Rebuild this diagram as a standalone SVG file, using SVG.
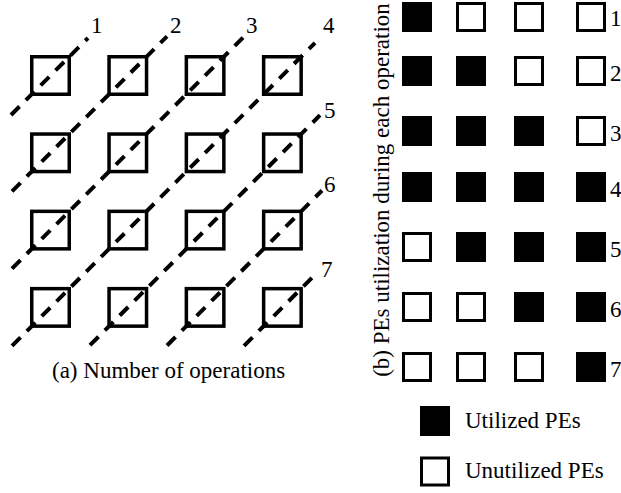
<svg xmlns="http://www.w3.org/2000/svg" width="621" height="493" viewBox="0 0 621 493">
<style>
.pe{fill:#fff;stroke:#000;stroke-width:3.5}
.u{fill:#fff;stroke:#000;stroke-width:3}
.f{fill:#000;stroke:none}
.d{fill:none;stroke:#000;stroke-width:4;stroke-dasharray:12 9}
text{font-family:"Liberation Serif","Times New Roman",serif;font-size:23px;fill:#000}
</style>
<rect width="621" height="493" fill="#fff"/>
<!-- (a) PE grid -->
<g id="grid-a">
<g id="a11"><rect class="pe" x="31.75" y="56.75" width="37.5" height="37.5"/></g>
<g id="a12"><rect class="pe" x="109.05" y="56.75" width="37.5" height="37.5"/></g>
<g id="a13"><rect class="pe" x="186.35" y="56.75" width="37.5" height="37.5"/></g>
<g id="a14"><rect class="pe" x="263.65" y="56.75" width="37.5" height="37.5"/></g>
<g id="a21"><rect class="pe" x="31.75" y="134.05" width="37.5" height="37.5"/></g>
<g id="a22"><rect class="pe" x="109.05" y="134.05" width="37.5" height="37.5"/></g>
<g id="a23"><rect class="pe" x="186.35" y="134.05" width="37.5" height="37.5"/></g>
<g id="a24"><rect class="pe" x="263.65" y="134.05" width="37.5" height="37.5"/></g>
<g id="a31"><rect class="pe" x="31.75" y="211.35" width="37.5" height="37.5"/></g>
<g id="a32"><rect class="pe" x="109.05" y="211.35" width="37.5" height="37.5"/></g>
<g id="a33"><rect class="pe" x="186.35" y="211.35" width="37.5" height="37.5"/></g>
<g id="a34"><rect class="pe" x="263.65" y="211.35" width="37.5" height="37.5"/></g>
<g id="a41"><rect class="pe" x="31.75" y="288.65" width="37.5" height="37.5"/></g>
<g id="a42"><rect class="pe" x="109.05" y="288.65" width="37.5" height="37.5"/></g>
<g id="a43"><rect class="pe" x="186.35" y="288.65" width="37.5" height="37.5"/></g>
<g id="a44"><rect class="pe" x="263.65" y="288.65" width="37.5" height="37.5"/></g>
</g>
<g id="connectors">
<line class="d" x1="11" y1="115" x2="88" y2="38"/>
<line class="d" x1="12" y1="191.3" x2="167" y2="36.3"/>
<line class="d" x1="12" y1="268.6" x2="243" y2="37.6"/>
<line class="d" x1="12" y1="345.9" x2="315" y2="42.9"/>
<line class="d" x1="90" y1="345.2" x2="320" y2="115.2"/>
<line class="d" x1="167" y1="345.5" x2="322" y2="190.5"/>
<line class="d" x1="244" y1="345.8" x2="318" y2="271.8"/>
</g>
<g id="labels-a">
<text x="91" y="33">1</text>
<text x="170" y="33">2</text>
<text x="246" y="33">3</text>
<text x="323" y="33">4</text>
<text x="324" y="118">5</text>
<text x="324" y="192">6</text>
<text x="321" y="277">7</text>
<text x="52" y="378">(a) Number of operations</text>
</g>
<!-- (b) utilization -->
<g id="grid-b">
<g id="b1">
<rect class="f" x="402" y="2" width="30" height="30"/>
<rect class="u" x="457.5" y="3.5" width="27" height="27"/>
<rect class="u" x="515.5" y="3.5" width="27" height="27"/>
<rect class="u" x="577.5" y="3.5" width="27" height="27"/>
<text x="610" y="26">1</text>
</g>
<g id="b2">
<rect class="f" x="402" y="56" width="30" height="30"/>
<rect class="f" x="456" y="56" width="30" height="30"/>
<rect class="u" x="515.5" y="57.5" width="27" height="27"/>
<rect class="u" x="577.5" y="57.5" width="27" height="27"/>
<text x="610" y="81">2</text>
</g>
<g id="b3">
<rect class="f" x="402" y="116" width="30" height="30"/>
<rect class="f" x="456" y="116" width="30" height="30"/>
<rect class="f" x="514" y="116" width="30" height="30"/>
<rect class="u" x="577.5" y="117.5" width="27" height="27"/>
<text x="610" y="141">3</text>
</g>
<g id="b4">
<rect class="f" x="402" y="172" width="30" height="30"/>
<rect class="f" x="456" y="172" width="30" height="30"/>
<rect class="f" x="514" y="172" width="30" height="30"/>
<rect class="f" x="576" y="172" width="30" height="30"/>
<text x="610" y="197">4</text>
</g>
<g id="b5">
<rect class="u" x="403.5" y="233.5" width="27" height="27"/>
<rect class="f" x="456" y="232" width="30" height="30"/>
<rect class="f" x="514" y="232" width="30" height="30"/>
<rect class="f" x="576" y="232" width="30" height="30"/>
<text x="610" y="257">5</text>
</g>
<g id="b6">
<rect class="u" x="403.5" y="293.5" width="27" height="27"/>
<rect class="u" x="457.5" y="293.5" width="27" height="27"/>
<rect class="f" x="514" y="292" width="30" height="30"/>
<rect class="f" x="576" y="292" width="30" height="30"/>
<text x="610" y="317">6</text>
</g>
<g id="b7">
<rect class="u" x="403.5" y="353.5" width="27" height="27"/>
<rect class="u" x="457.5" y="353.5" width="27" height="27"/>
<rect class="u" x="515.5" y="353.5" width="27" height="27"/>
<rect class="f" x="576" y="352" width="30" height="30"/>
<text x="610" y="377">7</text>
</g>
<text transform="translate(389,190) rotate(-90)" text-anchor="middle">(b) PEs utilization during each operation</text>
</g>
<g id="legend">
<g id="legend-utilized">
<rect class="f" x="420" y="406" width="30" height="30"/>
<text x="465" y="428">Utilized PEs</text>
</g>
<g id="legend-unutilized">
<rect class="u" x="421.5" y="458" width="27" height="27"/>
<text x="465" y="478">Unutilized PEs</text>
</g>
</g>
</svg>
